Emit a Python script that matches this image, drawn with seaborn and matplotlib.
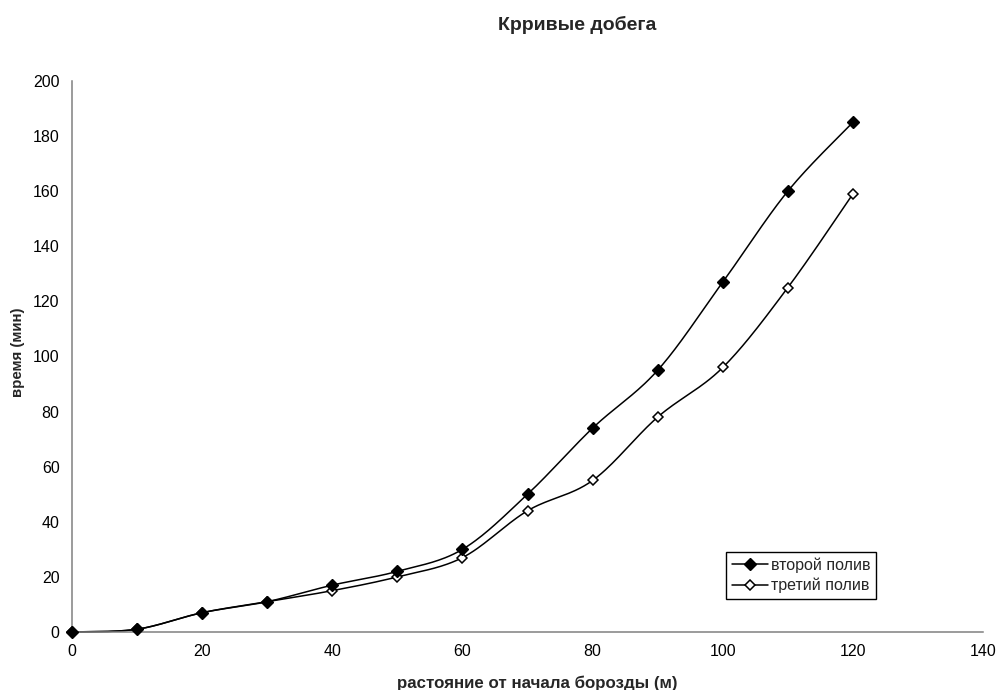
import numpy as np
import pandas as pd
import matplotlib
matplotlib.use("Agg")
import matplotlib.pyplot as plt
import seaborn as sns
from matplotlib.lines import Line2D

# Distance from the furrow start (m)
distance = [0, 10, 20, 30, 40, 50, 60, 70, 80, 90, 100, 110, 120]
# Advance time (min)
second_irrigation = [0, 1, 7, 11, 17, 22, 30, 50, 74, 95, 127, 160, 185]
third_irrigation = [0, 1, 7, 11, 15, 20, 27, 44, 55, 78, 96, 125, 159]

series_names = ["второй полив", "третий полив"]

title = "Крривые добега"
xlabel = "растояние от начала борозды (м)"
ylabel = "время (мин)"


def smooth_curve(x, y, steps=30):
    """Bezier smoothing through the points (spreadsheet-style smoothed line)."""
    x = np.asarray(x, float)
    y = np.asarray(y, float)
    n = len(x)
    px, py = [], []
    for i in range(n - 1):
        x0, y0 = (x[i - 1], y[i - 1]) if i > 0 else (x[i], y[i])
        x1, y1 = x[i], y[i]
        x2, y2 = x[i + 1], y[i + 1]
        x3, y3 = (x[i + 2], y[i + 2]) if i + 2 < n else (x2, y2)
        c1x, c1y = x1 + (x2 - x0) / 6, y1 + (y2 - y0) / 6
        c2x, c2y = x2 - (x3 - x1) / 6, y2 - (y3 - y1) / 6
        t = np.linspace(0, 1, steps, endpoint=(i == n - 2))
        a = (1 - t) ** 3
        b = 3 * (1 - t) ** 2 * t
        c = 3 * (1 - t) * t ** 2
        d = t ** 3
        px.append(a * x1 + b * c1x + c * c2x + d * x2)
        py.append(a * y1 + b * c1y + c * c2y + d * y2)
    return np.concatenate(px), np.concatenate(py)


sns.set_theme(style="white")
plt.rcParams["font.family"] = ["Liberation Sans", "DejaVu Sans"]

fig = plt.figure(figsize=(10.02, 6.9), dpi=100)
ax = fig.add_axes([0.0719, 0.0841, 0.9092, 0.7986])

points = pd.DataFrame({
    "distance": distance * 2,
    "time": second_irrigation + third_irrigation,
    "series": [series_names[0]] * len(distance) + [series_names[1]] * len(distance),
})

styles = {
    series_names[0]: dict(mfc="black", ms=5.8, mew=1.0),
    series_names[1]: dict(mfc="white", ms=5.0, mew=1.1),
}

# third series drawn first so the filled one sits on top where they coincide
for name in [series_names[1], series_names[0]]:
    sub = points[points["series"] == name]
    sx, sy = smooth_curve(sub["distance"], sub["time"])
    curve = pd.DataFrame({"x": sx, "y": sy})
    sns.lineplot(data=curve, x="x", y="y", ax=ax, color="black", lw=1.1,
                 sort=False, estimator=None, legend=False)
    ax.plot(sub["distance"], sub["time"], ls="none", marker="D",
            mec="black", zorder=5, **styles[name])

ax.set_xlim(0, 140)
ax.set_ylim(0, 200)
ax.set_xticks(np.arange(0, 141, 20))
ax.set_yticks(np.arange(0, 201, 20))

for side in ["top", "right"]:
    ax.spines[side].set_visible(False)
for side in ["left", "bottom"]:
    ax.spines[side].set_color("#808080")
    ax.spines[side].set_linewidth(1.1)

ax.tick_params(axis="both", which="major", direction="out", length=4,
               width=1, color="#808080", labelsize=11.5, labelcolor="black", pad=5)
for line in ax.lines:
    line.set_clip_on(False)

ax.set_xlabel("")
ax.set_ylabel("")
fig.text(0.536, 0.0095, xlabel, ha="center", va="center", fontsize=12.2, fontweight="bold")
fig.text(0.018, 0.49, ylabel, ha="center", va="center", rotation=90,
         fontsize=10.8, fontweight="bold")
fig.text(0.576, 0.964, title, ha="center", va="center", fontsize=14, fontweight="bold")

handles = [
    Line2D([], [], color="black", lw=1.1, marker="D", mfc="black", mec="black", ms=5.8, mew=1.0),
    Line2D([], [], color="black", lw=1.1, marker="D", mfc="white", mec="black", ms=5.0, mew=1.1),
]
leg = ax.legend(handles, series_names, loc="lower left", bbox_to_anchor=(0.718, 0.06),
                frameon=True, fancybox=False, framealpha=1, edgecolor="black",
                fontsize=11.5, handlelength=2.3, handletextpad=0.15,
                borderpad=0.35, labelspacing=0.3, borderaxespad=0)
leg.get_frame().set_linewidth(1.0)

fig.savefig("out.png", dpi=100)
